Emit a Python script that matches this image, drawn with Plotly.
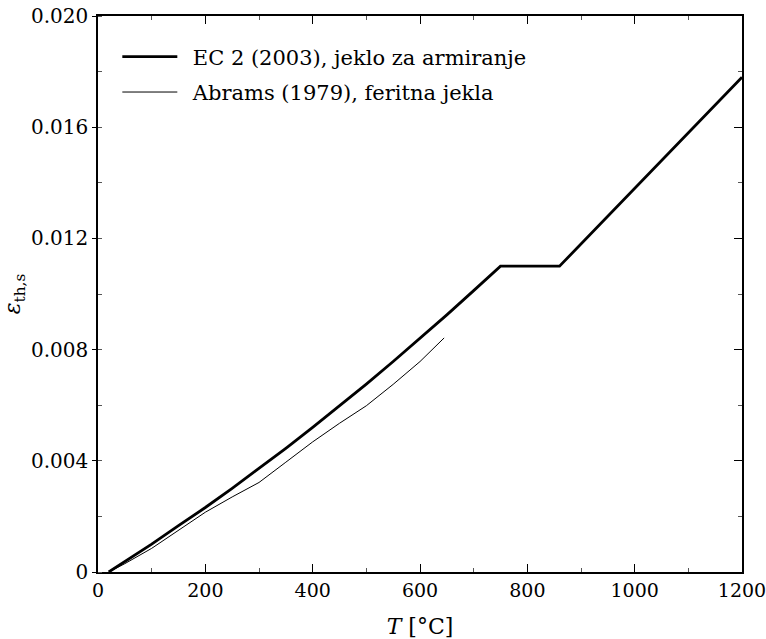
import plotly.graph_objects as go

# EC 2 (2003), reinforcing steel
ec2_T = [20, 50, 100, 150, 200, 250, 300, 350, 400, 450, 500, 550, 600, 650, 700, 750, 860, 1200]
ec2_eps = [0.0, 0.00037, 0.00100, 0.00167, 0.00232, 0.00301, 0.00372, 0.00445, 0.00520, 0.00597,
           0.00676, 0.00757, 0.00840, 0.00925, 0.01012, 0.01100, 0.01100, 0.01780]

# Abrams (1979), ferritic steels
abr_T = [20, 50, 100, 150, 200, 250, 300, 350, 400, 450, 500, 550, 600, 645]
abr_eps = [0.0, 0.00030, 0.00085, 0.00150, 0.00215, 0.00270, 0.00322, 0.00395, 0.00468, 0.00535,
           0.00598, 0.00675, 0.00757, 0.00842]

x_ticks = [0, 200, 400, 600, 800, 1000, 1200]
y_ticks = [0, 0.004, 0.008, 0.012, 0.016, 0.020]
y_ticklabels = ["0", "0.004", "0.008", "0.012", "0.016", "0.020"]

# Liberation Serif doesn't seem to be picked up here, DejaVu Serif does
FONT = "DejaVu Serif"
GAP = "\u2002"  # a bit more room between legend line and text

fig = go.Figure()
fig.add_trace(go.Scatter(x=ec2_T, y=ec2_eps, mode="lines", name=GAP + "EC 2 (2003), jeklo za armiranje",
                         line=dict(color="black", width=2.8), legendgroup="a"))
fig.add_trace(go.Scatter(x=abr_T, y=abr_eps, mode="lines", name=GAP + "Abrams (1979), feritna jekla",
                         line=dict(color="black", width=1), legendgroup="b"))
# invisible trace to carry the right-hand axis ticks
fig.add_trace(go.Scatter(x=[0], y=[0], yaxis="y2", mode="markers", marker=dict(opacity=0),
                         showlegend=False, hoverinfo="skip"))

fig.update_layout(
    width=766, height=639,
    margin=dict(l=97.5, r=23.5, t=16, b=67, autoexpand=False),
    paper_bgcolor="white", plot_bgcolor="white",
    font=dict(family=FONT, size=20, color="black"),
    showlegend=True,
    legend=dict(x=0.03, y=0.963, xanchor="left", yanchor="top", bgcolor="rgba(0,0,0,0)",
                font=dict(size=21), itemwidth=55, tracegroupgap=5),
    xaxis=dict(range=[0, 1200], tickvals=x_ticks, ticks="inside", ticklen=8, tickwidth=1,
               tickcolor="black", showline=True, linecolor="black", linewidth=1.6,
               mirror="ticks", showgrid=False, zeroline=False, automargin=False,
               tickfont=dict(size=19), ticklabeloverflow="allow",
               minor=dict(dtick=100, ticks="inside", ticklen=4, tickcolor="#555", showgrid=False),
               title=dict(text="<i>T</i> [°C]", font=dict(size=22), standoff=19)),
    yaxis=dict(range=[0, 0.020], tickvals=y_ticks, ticktext=y_ticklabels, ticks="outside",
               ticklen=4, tickwidth=1, tickcolor="black", showline=True, linecolor="black",
               linewidth=1.6, mirror=True, showgrid=False, zeroline=False, automargin=False,
               ticklabeloverflow="allow",
               minor=dict(dtick=0.002, ticks="inside", ticklen=4, tickcolor="#555", showgrid=False),
               title=dict(text="<i>ε</i><sub>th,s</sub>", font=dict(size=22), standoff=12)),
    yaxis2=dict(range=[0, 0.020], overlaying="y", side="right", tickvals=y_ticks,
                showticklabels=False, ticks="inside", ticklen=8, tickwidth=1, tickcolor="black",
                showgrid=False, zeroline=False, automargin=False,
                minor=dict(dtick=0.002, ticks="inside", ticklen=4, tickcolor="#555", showgrid=False)),
)

# drop the default 8px page margin so the figure sits at the top-left corner
fig.write_html("out.html", config={"displayModeBar": False},
               post_script="document.body.style.margin='0';")
